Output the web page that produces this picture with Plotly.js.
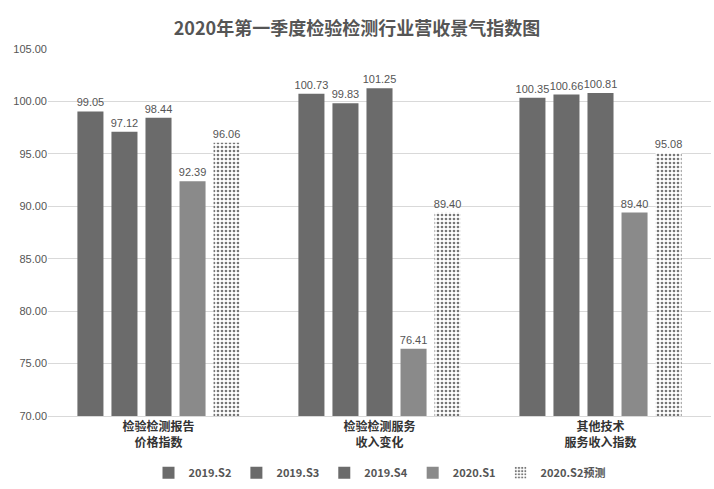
<!DOCTYPE html>
<html>
<head>
<meta charset="utf-8">
<script src="https://cdn.plot.ly/plotly-3.0.1.min.js"></script>
<style>html,body{margin:0;padding:0;background:#fff}#chart{width:714px;height:489px}</style>
</head>
<body>
<div id="chart"></div>
<script>
const categories = ["<b>检验检测报告</b><br><b>价格指数</b>", "<b>检验检测服务</b><br><b>收入变化</b>", "<b>其他技术</b><br><b>服务收入指数</b>"];
const seriesNames = ["2019.S2", "2019.S3", "2019.S4", "2020.S1", "2020.S2预测"];
const s2019S2 = [99.05, 100.73, 100.35];
const s2019S3 = [97.12, 99.83, 100.66];
const s2019S4 = [98.44, 101.25, 100.81];
const s2020S1 = [92.39, 76.41, 89.40];
const s2020S2f = [96.06, 89.40, 95.08];
const yTicks = [70, 75, 80, 85, 90, 95, 100, 105];

const values = [s2019S2, s2019S3, s2019S4, s2020S1, s2020S2f];
const colors = ["#6b6b6b", "#6b6b6b", "#6b6b6b", "#8a8a8a", "#ffffff"];
const traces = values.map((v, i) => {
  const t = {
    type: "bar", name: seriesNames[i], x: categories, y: v,
    text: v.map(d => d.toFixed(2)), textposition: "outside", constraintext: "none",
    textfont: {size: 11, color: "#555", family: "Liberation Sans, Arial, sans-serif"},
    cliponaxis: false,
    marker: {color: colors[i], line: {width: 0}}
  };
  if (i === 4) {
    t.marker.pattern = {shape: ".", fgcolor: "#777", bgcolor: "#ffffff", size: 4, solidity: 0.35};
  }
  return t;
});

const layout = {
  width: 714, height: 489,
  margin: {l: 48, r: 3, t: 49, b: 73, autoexpand: false},
  paper_bgcolor: "#fff", plot_bgcolor: "#fff",
  title: {text: "<b>2020年第一季度检验检测行业营收景气指数图</b>", x: 0.5, xanchor: "center", y: 0.955,
    font: {size: 18, color: "#555", family: "Noto Sans CJK SC, sans-serif"}},
  barmode: "group", bargap: 0.23, bargroupgap: 0.235,
  xaxis: {tickfont: {size: 12, color: "#333", family: "Noto Sans CJK SC, sans-serif"}, showline: true, linecolor: "#d9d9d9", ticks: ""},
  yaxis: {range: [70, 105], tickvals: yTicks, ticktext: yTicks.map(d => d.toFixed(2)),
    tickfont: {size: 11, color: "#555", family: "Liberation Sans, Arial, sans-serif"},
    gridcolor: "#d9d9d9", zeroline: false, ticklen: 0},
  legend: {orientation: "h", x: 0.5, xanchor: "center", y: -0.115, yanchor: "top",
    font: {size: 11, color: "#555", family: "Noto Sans CJK SC, sans-serif", weight: "bold"}, itemwidth: 30, tracegroupgap: 0},
  showlegend: true
};
Plotly.newPlot("chart", traces, layout, {displayModeBar: false});
</script>
</body>
</html>
